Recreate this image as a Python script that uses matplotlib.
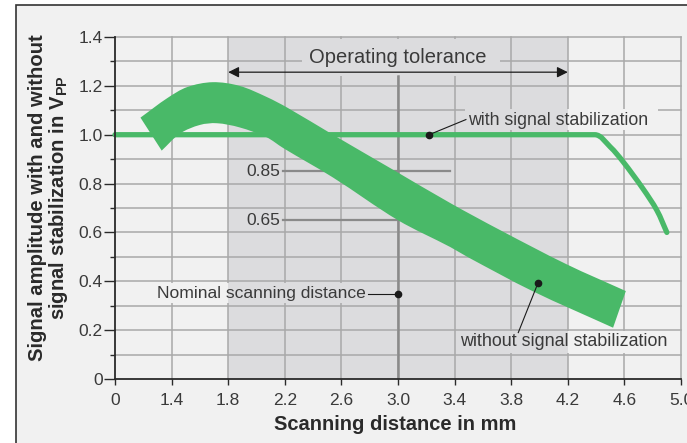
import matplotlib
matplotlib.use("Agg")
import matplotlib.pyplot as plt
import numpy as np
from matplotlib.patches import Rectangle, PathPatch
from matplotlib.path import Path

plt.rcParams['font.family'] = ['Liberation Sans', 'DejaVu Sans']
plt.rcParams['mathtext.fontset'] = 'custom'
plt.rcParams['mathtext.rm'] = 'Liberation Sans'
plt.rcParams['mathtext.bf'] = 'Liberation Sans:bold'

# ---- data ----
x_tick_pos = [1.0, 1.4, 1.8, 2.2, 2.6, 3.0, 3.4, 3.8, 4.2, 4.6, 5.0]
x_tick_labels = ['0', '1.4', '1.8', '2.2', '2.6', '3.0', '3.4', '3.8', '4.2', '4.6', '5.0']
y_ticks = [0, 0.2, 0.4, 0.6, 0.8, 1.0, 1.2, 1.4]
y_tick_labels = ['0', '0.2', '0.4', '0.6', '0.8', '1.0', '1.2', '1.4']

# with signal stabilization
stab_x = [1.0, 4.39, 4.50, 4.59, 4.73, 4.83, 4.90]
stab_y = [1.0, 1.0, 0.95, 0.89, 0.78, 0.69, 0.60]

# without signal stabilization (band edges)
upper_x = [1.18, 1.37, 1.51, 1.69, 1.88, 2.07, 2.22, 2.54, 2.97, 3.37, 3.72, 4.19, 4.61]
upper_y = [1.07, 1.15, 1.195, 1.215, 1.20, 1.155, 1.11, 1.0, 0.855, 0.72, 0.61, 0.47, 0.36]
lower_x = [1.33, 1.46, 1.60, 1.72, 1.88, 2.07, 2.19, 2.54, 3.0, 3.37, 3.49, 3.95, 4.52]
lower_y = [0.935, 1.005, 1.04, 1.047, 1.03, 0.99, 0.945, 0.825, 0.65, 0.54, 0.50, 0.36, 0.21]

tol_start, tol_end = 1.8, 4.2
nominal = 3.0
ref_levels = [0.85, 0.65]
ref_labels = ['0.85', '0.65']

GREEN = '#49b968'
BG = '#f1f1f1'
SHADE = '#dcdcde'
GRID = '#a9a9a9'
TXT = '#3a3a3a'
YSCALE = 1.72  # aspect of y units vs x units on screen, for chord lengths


def smooth_segments(xs, ys, start_tangent=None):
    """Bezier control points (Catmull-Rom, chord-length) through the given points."""
    P = np.column_stack([xs, ys]).astype(float)
    Q = P * [1.0, YSCALE]
    n = len(P)
    h = np.linalg.norm(np.diff(Q, axis=0), axis=1)
    t = np.concatenate([[0], np.cumsum(h)])
    m = np.zeros_like(P)
    m[0] = (P[1] - P[0]) / h[0] if start_tangent is None else np.array(start_tangent, float)
    m[-1] = (P[-1] - P[-2]) / h[-1]
    for i in range(1, n - 1):
        m[i] = (P[i + 1] - P[i - 1]) / (t[i + 1] - t[i - 1])
    verts, codes = [], []
    for i in range(n - 1):
        c1 = P[i] + m[i] * h[i] / 3
        c2 = P[i + 1] - m[i + 1] * h[i] / 3
        verts += [tuple(c1), tuple(c2), tuple(P[i + 1])]
        codes += [Path.CURVE4] * 3
    return P, verts, codes


fig = plt.figure(figsize=(6.87, 4.43), dpi=100)
fig.patch.set_facecolor('white')
frame = Rectangle((16/687, -0.2), 1.5, 1.2 - 5/443, transform=fig.transFigure,
                  facecolor=BG, edgecolor='#333333', lw=1.2, zorder=-10)
fig.patches.append(frame)

ax = fig.add_axes([115/687, 1 - 379/443, 566/687, 342/443])
ax.set_zorder(1)
ax.set_facecolor('none')
ax.set_xlim(1.0, 5.0)
ax.set_ylim(0, 1.4)

ax.axvspan(tol_start, tol_end, color=SHADE, zorder=0.5, lw=0)

for v in x_tick_pos[1:]:
    ax.axvline(v, color=GRID, lw=1.1, zorder=1, clip_on=False)
for k in range(1, 15):
    ax.axhline(k * 0.1, color=GRID, lw=1.1, zorder=1, clip_on=False)


def mask(x0, x1, y0, y1):
    segs = [(x0, min(x1, tol_start), BG), (max(x0, tol_start), min(x1, tol_end), SHADE),
            (max(x0, tol_end), x1, BG)]
    for a, b, c in segs:
        if b > a:
            ax.add_patch(Rectangle((a, y0), b - a, y1 - y0, facecolor=c, lw=0, zorder=1.5))


mask(2.32, 3.72, 1.24, 1.393)
mask(3.47, 4.84, 1.02, 1.105)
mask(1.24, 2.79, 0.31, 0.395)
mask(3.41, 4.93, 0.105, 0.198)

ax.plot([nominal, nominal], [0, 1.24], color='#8a8a8a', lw=1.8, zorder=2)
for lvl, lab in zip(ref_levels, ref_labels):
    ax.plot([2.19, 3.37], [lvl, lvl], color='#8a8a8a', lw=1.6, zorder=2)
    ax.text(2.165, lvl, lab, ha='right', va='center', fontsize=12.5, color=TXT, zorder=3)

# band (smooth edges)
Pu, vu, cu = smooth_segments(upper_x, upper_y)
Pl, vl, cl = smooth_segments(lower_x[::-1], lower_y[::-1])
verts = [tuple(Pu[0])] + vu + [tuple(Pl[0])] + vl + [tuple(Pu[0])]
codes = [Path.MOVETO] + cu + [Path.LINETO] + cl + [Path.CLOSEPOLY]
ax.add_patch(PathPatch(Path(verts, codes), facecolor=GREEN, edgecolor='none', zorder=4))

# stabilized line: straight plateau, then smooth roll-off
Ps, vs, cs = smooth_segments(stab_x[1:], stab_y[1:], start_tangent=(1.0, 0.0))
spath = Path([(stab_x[0], stab_y[0]), (stab_x[1], stab_y[1])] + vs,
             [Path.MOVETO, Path.LINETO] + cs)
ax.add_patch(PathPatch(spath, facecolor='none', edgecolor=GREEN, lw=3.8, capstyle='round',
                       joinstyle='round', zorder=5, clip_on=False))

ax.annotate('', xy=(tol_start, 1.256), xytext=(tol_end, 1.256),
            arrowprops=dict(arrowstyle='<|-|>', color='#1a1a1a', lw=0.9,
                            mutation_scale=16, shrinkA=0, shrinkB=0), zorder=6)
ax.text(3.0, 1.318, 'Operating tolerance', ha='center', va='center', fontsize=14.5,
        color=TXT, zorder=6)

ax.plot([3.22, 3.48], [1.0, 1.062], color='#1a1a1a', lw=0.8, zorder=6)
ax.plot([3.22], [1.0], 'o', color='#1a1a1a', ms=4.5, zorder=7)
ax.text(3.495, 1.06, 'with signal stabilization', ha='left', va='center', fontsize=12.8,
        color=TXT, zorder=6)

ax.plot([2.79, 3.0], [0.35, 0.35], color='#1a1a1a', lw=0.8, zorder=6)
ax.plot([3.0], [0.35], 'o', color='#1a1a1a', ms=4.5, zorder=7)
ax.text(2.775, 0.352, 'Nominal scanning distance', ha='right', va='center', fontsize=12.6,
        color=TXT, zorder=6)

ax.plot([3.99, 3.85], [0.394, 0.19], color='#1a1a1a', lw=0.8, zorder=6)
ax.plot([3.99], [0.394], 'o', color='#1a1a1a', ms=4.5, zorder=7)
ax.text(3.44, 0.152, 'without signal stabilization', ha='left', va='center', fontsize=12.9,
        color=TXT, zorder=6)

for s in ['top', 'right']:
    ax.spines[s].set_visible(False)
for s in ['left', 'bottom']:
    ax.spines[s].set_color('#2a2a2a')
    ax.spines[s].set_linewidth(1.3)
    ax.spines[s].set_zorder(8)

ax.set_xticks(x_tick_pos)
ax.set_xticklabels(x_tick_labels)
ax.set_yticks(y_ticks)
ax.set_yticklabels(y_tick_labels)
ax.set_yticks([k * 0.1 for k in range(1, 14, 2)], minor=True)
ax.tick_params(axis='x', length=4, width=1.0, color='#2a2a2a', pad=6, labelsize=12.5,
               labelcolor=TXT)
ax.tick_params(axis='y', which='major', length=8, width=1.0, color='#2a2a2a', pad=1,
               labelsize=12.5, labelcolor=TXT)
ax.tick_params(axis='y', which='minor', length=3.6, width=1.0, color='#2a2a2a')

fig.text(49/687, 1 - 198/443,
         'Signal amplitude with and without\nsignal stabilization in V$_{\\mathbf{PP}}$',
         rotation=90, ha='center', va='center', multialignment='center',
         fontsize=14.6, fontweight='bold', color='#2a2a2a', linespacing=1.05)
fig.text(395/687, 1 - 424/443, 'Scanning distance in mm', ha='center', va='center',
         fontsize=14.5, fontweight='bold', color='#2a2a2a')

fig.savefig('out.png', dpi=100)
